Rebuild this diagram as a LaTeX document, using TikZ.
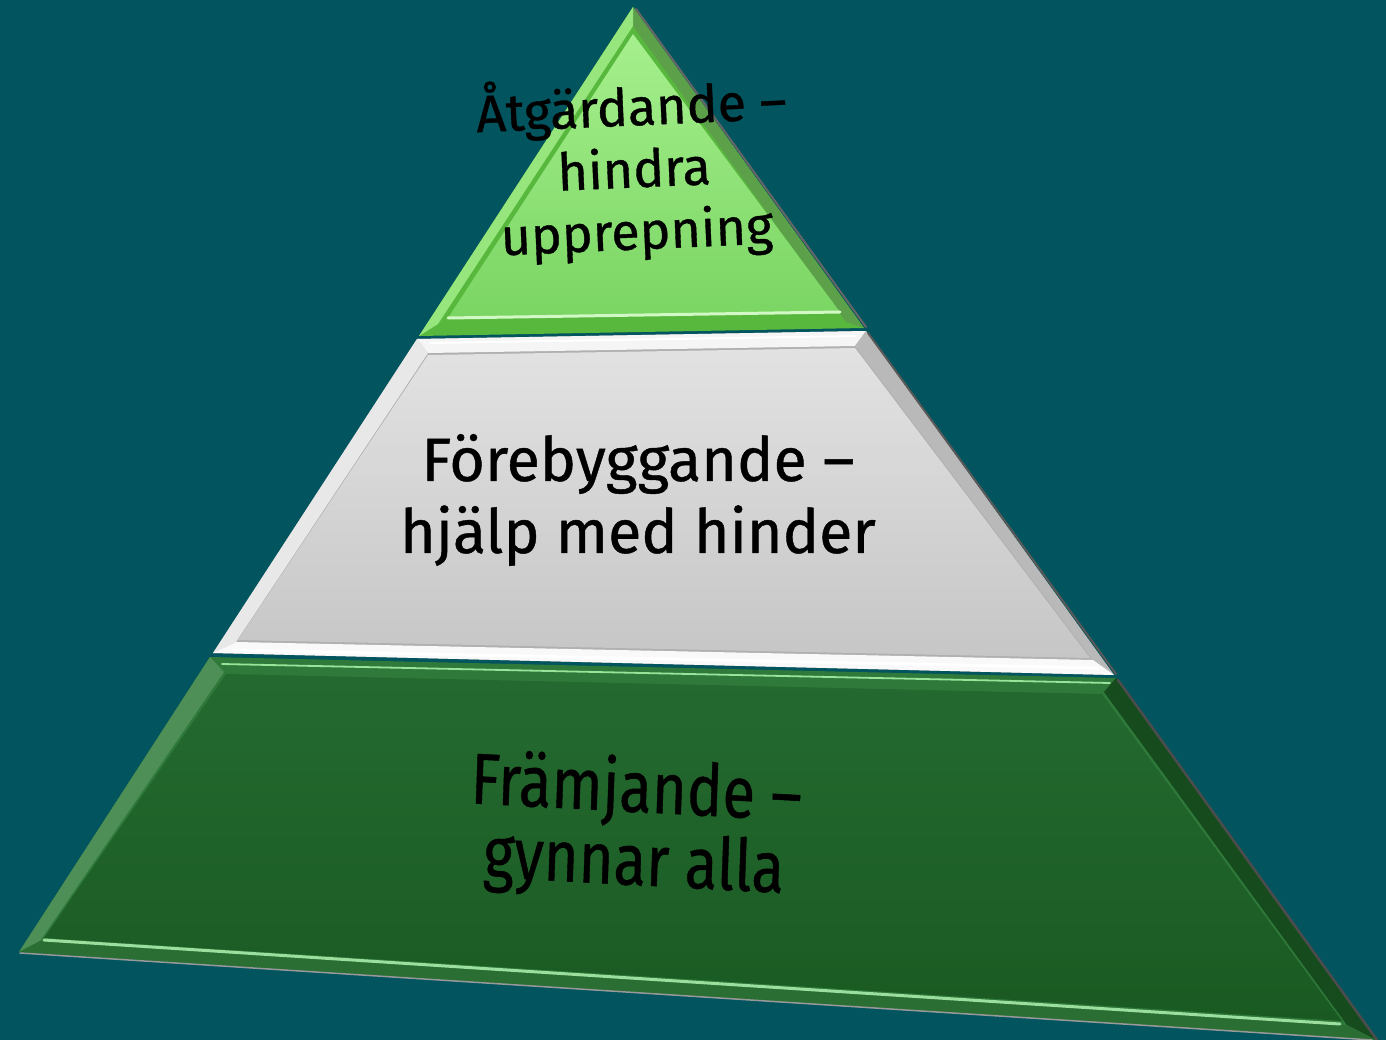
\documentclass[tikz,border=0pt]{standalone}
\usepackage{fontspec}
\setmainfont{Fira Sans}[FakeBold=0.7]
\begin{document}
\begin{tikzpicture}[x=1pt,y=-1pt,
  lbl/.style={align=center,text=black,inner sep=0pt},
  edgeline/.style={line width=2.5pt,color=#1,line cap=round},
]
\definecolor{bg}{HTML}{02545E}
\definecolor{tgA}{HTML}{A6F08D}
\definecolor{tgB}{HTML}{7AD563}
\definecolor{tgE}{HTML}{58B83E}
\definecolor{mgA}{HTML}{E2E2E2}
\definecolor{mgB}{HTML}{C6C6C6}
\definecolor{mgE}{HTML}{B0B0B0}
\definecolor{bgA}{HTML}{246A30}
\definecolor{bgB}{HTML}{1A5A22}
\definecolor{bgE}{HTML}{2F7A3A}
\useasboundingbox (0,0) rectangle (1386,1040);
\fill[bg] (0,0) rectangle (1386,1040);

% ---------- top tier ----------
\coordinate (tA) at (633,7);
\coordinate (tL) at (419,336);
\coordinate (tR) at (864,328);
\fill[tgE] (tA) -- (tL) -- (tR) -- cycle;
\fill[tgB!75!black] (tA) -- (tR) -- (846,322) -- (633,26) -- cycle;
\fill[tgA!80!tgE] (tA) -- (633,26) -- (438,324) -- (tL) -- cycle;
\shade[top color=tgA,bottom color=tgB] (633,34) -- (448,318) -- (840,312) -- cycle;
\draw[edgeline=tgA!50!white,line width=3pt] (448,318) -- (840,312);
\draw[edgeline=gray!80!black,line width=2pt] (636,9) -- (866,327);

% ---------- middle tier ----------
\coordinate (mTL) at (417,339);
\coordinate (mTR) at (866,331);
\coordinate (mBL) at (213,653);
\coordinate (mBR) at (1114,675);
\fill[mgE] (mTL) -- (mTR) -- (mBR) -- (mBL) -- cycle;
\fill[white!92!gray] (mTL) -- (mTR) -- (855,346) -- (428,353) -- cycle;
\fill[gray!55] (mTR) -- (mBR) -- (1093,660) -- (855,346) -- cycle;
\fill[white!82!gray] (mTL) -- (428,353) -- (236,642) -- (mBL) -- cycle;
\fill[white!95!gray] (mBL) -- (236,642) -- (1093,660) -- (mBR) -- cycle;
\shade[top color=mgA,bottom color=mgB] (428,355) -- (855,348) -- (1090,658) -- (238,640) -- cycle;
\draw[edgeline=white,line width=2pt] (430,343) -- (855,336);
\draw[edgeline=white,line width=3pt] (232,650) -- (1098,668);
\draw[edgeline=gray!70!black,line width=2pt] (868,333) -- (1116,674);

% ---------- bottom tier ----------
\coordinate (bTL) at (210,657);
\coordinate (bTR) at (1116,678);
\coordinate (bBL) at (19,952);
\coordinate (bBR) at (1376,1040);
\fill[bgE] (bTL) -- (bTR) -- (bBR) -- (bBL) -- cycle;
\fill[bgB!85!black] (bTR) -- (bBR) -- (1347,1025) -- (1104,692) -- cycle;
\fill[bgE!85!white] (bTL) -- (224,672) -- (40,941) -- (bBL) -- cycle;
\fill[bgE!90!black] (bBL) -- (40,941) -- (1347,1025) -- (bBR) -- cycle;
\shade[top color=bgA,bottom color=bgB] (226,674) -- (1102,694) -- (1342,1021) -- (44,938) -- cycle;
\draw[edgeline=green!30!white!80!bgE,line width=1.8pt] (222,664) -- (1110,683);
\draw[edgeline=green!25!white!75!bgE,line width=3pt] (44,940) -- (1340,1024);
\draw[edgeline=gray!80!white,line width=1.5pt] (20,953) -- (1372,1040);
\draw[edgeline=gray!60!black,line width=2.5pt] (1118,680) -- (1377,1040);

% ---------- texts ----------
\node[lbl,font=\fontsize{52}{62}\selectfont,rotate=2.5] (t1) at (634,168)
  {Åtgärdande –\\hindra\\upprepning};

\node[lbl,font=\fontsize{61}{72}\selectfont] (t2) at (638,500)
  {Förebyggande –\\hjälp med hinder};

\node[lbl,font=\fontsize{72}{73}\selectfont,xscale=0.83,rotate=-2.5] (t3) at (635,828)
  {Främjande –\\gynnar alla};
\end{tikzpicture}
\end{document}
